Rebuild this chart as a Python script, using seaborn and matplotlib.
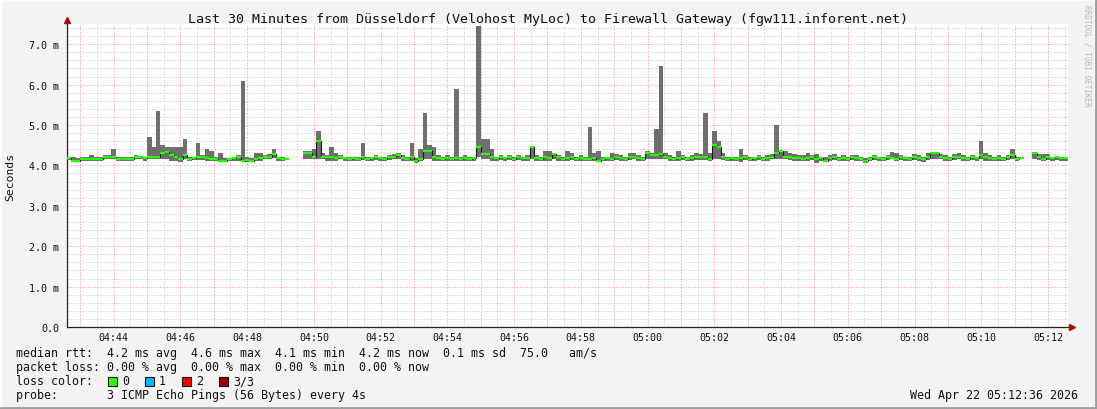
import numpy as np
import pandas as pd
import matplotlib
matplotlib.use("Agg")
import matplotlib.pyplot as plt
import matplotlib.dates as mdates
from matplotlib.lines import Line2D
from matplotlib.patches import Rectangle
from matplotlib.ticker import FixedLocator, FuncFormatter
import seaborn as sns

# ---------------- data (ms), one sample every 8 s from 04:42:36 ----------------
start_time = "2026-04-22 04:42:36"
step_seconds = 8
nan = float("nan")

median_rtt = [
    4.18, 4.12, 4.12, 4.15, 4.17, 4.17, 4.15, 4.15, 4.20, 4.20, 4.22, 4.17, 4.16, 4.16, 4.16,
    4.20, 4.20, 4.18, 4.22, 4.20, 4.22, 4.30, 4.33, 4.25, 4.20, 4.15, 4.25, 4.15, 4.18, 4.20,
    4.20, 4.18, 4.15, 4.15, 4.12, 4.12, 4.15, 4.18, 4.20, 4.12, 4.14, 4.12, 4.15, 4.18, 4.20,
    4.22, 4.28, 4.18, 4.15, 4.15, nan, nan, nan, 4.30, 4.30, 4.22, 4.60, 4.22, 4.20, 4.20,
    4.18, 4.20, 4.18, 4.15, 4.18, 4.15, 4.20, 4.15, 4.18, 4.20, 4.18, 4.15, 4.20, 4.22, 4.25,
    4.18, 4.15, 4.20, 4.12, 4.15, 4.35, 4.35, 4.22, 4.18, 4.15, 4.18, 4.15, 4.18, 4.15, 4.18,
    4.15, 4.18, 4.45, 4.28, 4.28, 4.20, 4.18, 4.20, 4.18, 4.20, 4.15, 4.20, 4.18, 4.18, 4.45,
    4.18, 4.15, 4.20, 4.18, 4.28, 4.20, 4.15, 4.18, 4.20, 4.15, 4.18, 4.15, 4.15, 4.18, 4.12,
    4.15, 4.18, 4.15, 4.20, 4.18, 4.15, 4.20, 4.22, 4.18, 4.15, 4.30, 4.25, 4.25, 4.28, 4.22,
    4.18, 4.15, 4.18, 4.20, 4.15, 4.18, 4.20, 4.22, 4.20, 4.15, 4.50, 4.45, 4.20, 4.15, 4.18,
    4.15, 4.18, 4.20, 4.15, 4.18, 4.20, 4.15, 4.18, 4.22, 4.30, 4.35, 4.22, 4.20, 4.18, 4.18,
    4.15, 4.18, 4.20, 4.15, 4.18, 4.12, 4.18, 4.20, 4.15, 4.18, 4.15, 4.20, 4.18, 4.15, 4.12,
    4.15, 4.20, 4.18, 4.15, 4.20, 4.18, 4.15, 4.20, 4.18, 4.15, 4.20, 4.18, 4.15, 4.22, 4.30,
    4.30, 4.22, 4.18, 4.15, 4.20, 4.22, 4.18, 4.15, 4.20, 4.18, 4.25, 4.20, 4.18, 4.15, 4.18,
    4.15, 4.20, 4.25, 4.15, 4.18, nan, nan, 4.30, 4.22, 4.15, 4.20, 4.18, 4.20, 4.18, 4.18,
]

smoke_hi = [
    4.22, 4.20, 4.18, 4.22, 4.22, 4.25, 4.20, 4.22, 4.25, 4.25, 4.40, 4.22, 4.20, 4.20, 4.22,
    4.25, 4.22, 4.22, 4.70, 4.45, 5.35, 4.50, 4.45, 4.45, 4.45, 4.45, 4.65, 4.20, 4.22, 4.55,
    4.25, 4.40, 4.35, 4.20, 4.30, 4.18, 4.18, 4.22, 4.25, 6.10, 4.20, 4.18, 4.30, 4.30, 4.25,
    4.28, 4.40, 4.22, 4.20, 4.20, nan, nan, nan, 4.35, 4.35, 4.40, 4.85, 4.30, 4.25, 4.45,
    4.30, 4.25, 4.22, 4.20, 4.22, 4.20, 4.55, 4.20, 4.22, 4.25, 4.22, 4.20, 4.25, 4.28, 4.30,
    4.25, 4.20, 4.55, 4.18, 4.40, 5.30, 4.50, 4.45, 4.25, 4.20, 4.25, 4.22, 5.90, 4.20, 4.25,
    4.20, 4.22, 7.45, 4.65, 4.65, 4.40, 4.22, 4.25, 4.22, 4.25, 4.20, 4.25, 4.22, 4.25, 4.45,
    4.25, 4.20, 4.35, 4.35, 4.30, 4.25, 4.20, 4.35, 4.30, 4.22, 4.25, 4.20, 4.95, 4.30, 4.35,
    4.20, 4.22, 4.30, 4.28, 4.25, 4.20, 4.30, 4.30, 4.25, 4.20, 4.35, 4.30, 4.90, 6.45, 4.30,
    4.25, 4.22, 4.35, 4.25, 4.20, 4.25, 4.30, 4.28, 5.30, 4.30, 4.85, 4.60, 4.30, 4.20, 4.22,
    4.20, 4.40, 4.25, 4.20, 4.22, 4.25, 4.20, 4.25, 4.28, 5.00, 4.35, 4.35, 4.30, 4.28, 4.25,
    4.25, 4.30, 4.25, 4.28, 4.22, 4.20, 4.25, 4.28, 4.22, 4.25, 4.22, 4.25, 4.25, 4.22, 4.18,
    4.22, 4.25, 4.22, 4.20, 4.25, 4.32, 4.30, 4.25, 4.22, 4.20, 4.28, 4.25, 4.22, 4.30, 4.30,
    4.30, 4.28, 4.25, 4.22, 4.28, 4.30, 4.25, 4.22, 4.25, 4.22, 4.60, 4.30, 4.25, 4.22, 4.25,
    4.22, 4.25, 4.40, 4.22, 4.20, nan, nan, 4.30, 4.28, 4.28, 4.28, 4.22, 4.22, 4.20, 4.20,
]

smoke_lo = [
    4.14, 4.08, 4.08, 4.10, 4.12, 4.12, 4.12, 4.12, 4.15, 4.15, 4.16, 4.12, 4.10, 4.12, 4.12,
    4.15, 4.15, 4.12, 4.15, 4.15, 4.15, 4.15, 4.15, 4.12, 4.12, 4.08, 4.15, 4.10, 4.14, 4.14,
    4.14, 4.12, 4.10, 4.10, 4.08, 4.08, 4.10, 4.12, 4.12, 4.08, 4.08, 4.08, 4.10, 4.12, 4.15,
    4.15, 4.18, 4.10, 4.10, 4.10, nan, nan, nan, 4.15, 4.15, 4.15, 4.15, 4.15, 4.12, 4.12,
    4.12, 4.15, 4.12, 4.10, 4.12, 4.10, 4.14, 4.10, 4.12, 4.14, 4.12, 4.10, 4.14, 4.15, 4.15,
    4.12, 4.10, 4.12, 4.06, 4.10, 4.15, 4.15, 4.12, 4.12, 4.10, 4.12, 4.10, 4.12, 4.10, 4.12,
    4.10, 4.12, 4.20, 4.15, 4.15, 4.12, 4.12, 4.14, 4.12, 4.14, 4.10, 4.14, 4.12, 4.12, 4.15,
    4.12, 4.10, 4.12, 4.12, 4.15, 4.12, 4.10, 4.12, 4.14, 4.10, 4.12, 4.10, 4.10, 4.12, 4.08,
    4.10, 4.12, 4.10, 4.14, 4.12, 4.10, 4.14, 4.15, 4.12, 4.10, 4.15, 4.15, 4.15, 4.15, 4.15,
    4.12, 4.10, 4.12, 4.14, 4.10, 4.12, 4.14, 4.14, 4.14, 4.10, 4.15, 4.15, 4.14, 4.10, 4.12,
    4.10, 4.08, 4.14, 4.10, 4.12, 4.14, 4.10, 4.12, 4.15, 4.15, 4.15, 4.15, 4.14, 4.12, 4.12,
    4.10, 4.12, 4.14, 4.06, 4.12, 4.08, 4.12, 4.14, 4.10, 4.12, 4.10, 4.14, 4.12, 4.10, 4.06,
    4.10, 4.14, 4.12, 4.10, 4.14, 4.15, 4.12, 4.14, 4.12, 4.10, 4.14, 4.12, 4.08, 4.14, 4.15,
    4.15, 4.15, 4.12, 4.10, 4.14, 4.15, 4.12, 4.10, 4.14, 4.12, 4.15, 4.12, 4.10, 4.10, 4.12,
    4.10, 4.14, 4.15, 4.10, 4.12, nan, nan, 4.15, 4.14, 4.10, 4.14, 4.12, 4.14, 4.12, 4.12,
]

y_ticks = [0, 1, 2, 3, 4, 5, 6, 7]
y_tick_labels = ["0.0", "1.0 m", "2.0 m", "3.0 m", "4.0 m", "5.0 m", "6.0 m", "7.0 m"]

title = "Last 30 Minutes from Düsseldorf (Velohost MyLoc) to Firewall Gateway (fgw111.inforent.net)"
legend_rows = [
    "median rtt:  4.2 ms avg  4.6 ms max  4.1 ms min  4.2 ms now  0.1 ms sd  75.0   am/s",
    "packet loss: 0.00 % avg  0.00 % max  0.00 % min  0.00 % now",
    "loss color:",
    "probe:       3 ICMP Echo Pings (56 Bytes) every 4s",
]
loss_labels = ["0", "1", "2", "3/3"]
loss_colors = ["#26ff00", "#00b8ff", "#ff0000", "#a10000"]
timestamp = "Wed Apr 22 05:12:36 2026"

# ---------------- styling ----------------
sns.set_style("white")
MONO = ["DejaVu Sans Mono", "DejaVu Sans"]
plt.rcParams["font.family"] = MONO
BG = "#f3f3f3"

W, H = 1097, 410
fig = plt.figure(figsize=(W / 100, H / 100), dpi=100, facecolor=BG)
ax = fig.add_axes([67 / W, 82 / H, (1068 - 67) / W, (328 - 25) / H])
ax.set_facecolor("white")

n = len(median_rtt)
edges = pd.date_range(start_time, periods=n + 1, freq=f"{step_seconds}s")
med = np.array(median_rtt + [median_rtt[-1]])
hi = np.array(smoke_hi + [smoke_hi[-1]])
lo = np.array(smoke_lo + [smoke_lo[-1]])

# smoke (ping spread)
ax.fill_between(edges, lo, hi, step="post", color="#6f6f6f", linewidth=0, zorder=3)

# median line: thin dark steps + green (0 % loss) level segments
seg_id = np.cumsum(np.isnan(med))
df = pd.DataFrame({"time": edges, "median": med, "seg": seg_id}).dropna()
sns.lineplot(data=df, x="time", y="median", units="seg", estimator=None,
             drawstyle="steps-post", color="#1a1a1a", linewidth=0.8, ax=ax, zorder=4)
ax.hlines(np.array(median_rtt), edges[:-1], edges[1:], colors=loss_colors[0],
          linewidth=1.6, zorder=5)

t0, t1 = edges[0], edges[-1]
ax.set_xlim(t0, t1)
ax.set_ylim(0, 7.5)

# ticks and grids
minute_ticks = pd.date_range("2026-04-22 04:43:00", "2026-04-22 05:12:00", freq="1min")
half_ticks = pd.date_range("2026-04-22 04:42:30", "2026-04-22 05:12:30", freq="1min")
ax.xaxis.set_major_locator(FixedLocator(mdates.date2num(minute_ticks)))
ax.xaxis.set_minor_locator(FixedLocator(mdates.date2num(half_ticks)))
ax.xaxis.set_major_formatter(FuncFormatter(
    lambda v, p: mdates.num2date(v).strftime("%H:%M") if mdates.num2date(v).minute % 2 == 0 else ""))
ax.yaxis.set_major_locator(FixedLocator(y_ticks))
ax.yaxis.set_minor_locator(FixedLocator(np.arange(0, 7.6, 0.2)))
ax.set_yticklabels(y_tick_labels)

minor_kw = dict(color="#c0c0c0", linewidth=0.72, linestyle=(0, (1, 2)))
major_kw = dict(color="#ff8080", linewidth=0.72, linestyle=(0, (1, 2)))
ax.grid(True, which="minor", axis="both", **minor_kw)
ax.grid(True, which="major", axis="both", **major_kw)
ax.set_axisbelow(True)

ax.tick_params(axis="both", which="major", labelsize=7.2, length=2.5, width=0.7,
               color="#333333", direction="out", pad=3, labelcolor="#111111")
ax.tick_params(axis="x", which="minor", length=1.5, width=0.6, color="#888888")
ax.tick_params(axis="y", which="minor", length=0)
ax.tick_params(axis="x", which="major", length=2, pad=1.5)
ax.set_xlabel("")
ax.set_ylabel("")

for s in ["top", "right"]:
    ax.spines[s].set_visible(False)
for s in ["left", "bottom"]:
    ax.spines[s].set_color("#222222")
    ax.spines[s].set_linewidth(0.9)
ax.spines["left"].set_bounds(0, 7.6)

# axis arrows
ax.plot([0], [1.012], marker="^", markersize=4.5, color="#a01010", transform=ax.transAxes,
        clip_on=False, zorder=6)
ax.plot([1.004], [0], marker=">", markersize=4.5, color="#a01010", transform=ax.transAxes,
        clip_on=False, zorder=6)

# texts
fig.text(548 / W, 1 - 19 / H, title, ha="center", va="center", fontsize=9.6, color="#111111")
fig.text(10 / W, 1 - 177 / H, "Seconds", rotation=90, ha="center", va="center",
         fontsize=8.2, color="#111111")
fig.text(1087 / W, 1 - 5 / H, "RRDTOOL / TOBI OETIKER", rotation=270, ha="center", va="top",
         fontsize=5.6, color="#b8b8b8")

row_y = [354, 368, 382, 396]
for txt, yy in zip(legend_rows, row_y):
    fig.text(16 / W, 1 - yy / H, txt, ha="left", va="center", fontsize=8.4, color="#111111")

box_x = [108, 145, 182, 219]
lab_x = [122, 159, 196, 233]
for bx, lx, lab, col in zip(box_x, lab_x, loss_labels, loss_colors):
    fig.patches.append(Rectangle((bx / W, 1 - 387 / H), 9 / W, 9 / H, transform=fig.transFigure,
                                 facecolor=col, edgecolor="#111111", linewidth=0.8, figure=fig))
    fig.text(lx / W, 1 - 382 / H, lab, ha="left", va="center", fontsize=8.4, color="#111111")

fig.text(1078 / W, 1 - 396 / H, timestamp, ha="right", va="center", fontsize=8.4, color="#111111")

# frame
fig.add_artist(Line2D([0, 1], [1 - 1 / H, 1 - 1 / H], transform=fig.transFigure, color="#fcfcfc", lw=1.5))
fig.add_artist(Line2D([1 / W, 1 / W], [0, 1], transform=fig.transFigure, color="#fcfcfc", lw=1.5))
fig.add_artist(Line2D([0, 1], [1 / H, 1 / H], transform=fig.transFigure, color="#9e9e9e", lw=2))
fig.add_artist(Line2D([1 - 1 / W, 1 - 1 / W], [0, 1], transform=fig.transFigure, color="#9e9e9e", lw=2))

fig.savefig("out.png", dpi=100, facecolor=BG)
